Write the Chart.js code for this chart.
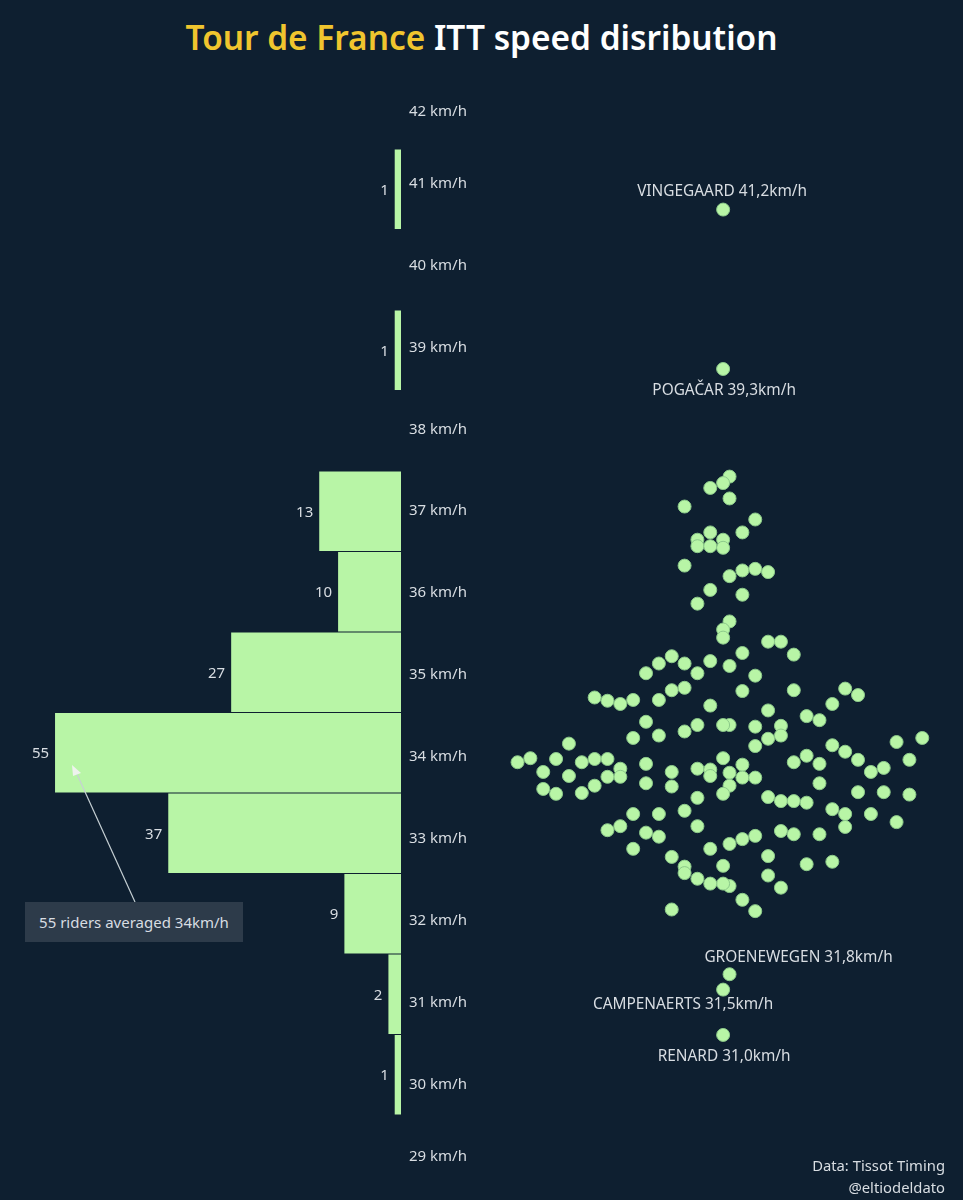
<!DOCTYPE html>
<html>
<head>
<meta charset="utf-8">
<title>Tour de France ITT speed distribution</title>
<script src="https://cdn.jsdelivr.net/npm/chart.js@4"></script>
<style>
  html, body { margin: 0; padding: 0; background: #0e1f30; }
  body { position: relative; width: 963px; height: 1200px; overflow: hidden; font-family: "Noto Sans", sans-serif; }
  canvas { position: absolute; top: 0; }
  #bar-chart { left: 0; }
  #swarm-chart { left: 479px; }
  h1 { position: absolute; top: 15px; left: 0; width: 963px; margin: 0; text-align: center; font-size: 33.4px; font-weight: 600; line-height: 44px; color: #fff; }
  h1 span { color: #f0c52e; }
  .note { position: absolute; left: 25px; top: 902px; width: 218px; height: 40px; line-height: 40px; background: #2d3b4a; color: #d8dde2; font-size: 15px; text-align: center; }
  .credit { position: absolute; right: 18px; top: 1154px; text-align: right; color: #d8dde2; font-size: 14.8px; line-height: 22px; }
</style>
</head>
<body>
<h1><span>Tour de France</span> ITT speed disribution</h1>
<canvas id="bar-chart" width="480" height="1200"></canvas>
<canvas id="swarm-chart" width="484" height="1200"></canvas>
<div class="note">55 riders averaged 34km/h</div>
<div class="credit">Data: Tissot Timing<br>@eltiodeldato</div>

<script>
const green = "#b8f5a6";
const textColor = "#d8dde2";
const fontFamily = '"Noto Sans", sans-serif';

// histogram, one bin per km/h
const speedBins = [42, 41, 40, 39, 38, 37, 36, 35, 34, 33, 32, 31, 30, 29];
const riderCounts = [0, 1, 0, 1, 0, 13, 10, 27, 55, 37, 9, 2, 1, 0];

// axis labels, the two outer ones sit closer in
const tickValues = [41.88, 41, 40, 39, 38, 37, 36, 35, 34, 33, 32, 31, 30, 29.12];
const tickLabels = ["42 km/h", "41 km/h", "40 km/h", "39 km/h", "38 km/h", "37 km/h", "36 km/h",
  "35 km/h", "34 km/h", "33 km/h", "32 km/h", "31 km/h", "30 km/h", "29 km/h"];

// beeswarm: column of each rider and his average speed
const swarmColumns = [
  0.5, 0, -1, 0.5, -3, 2.5, 1.5, -1, -2, 0, -2, -1, 0,
  -3, 2.5, 1.5, 3.5, 0.5, -1, 1.5, -2, 0.5, 0,
  0, 3.5, 4.5, 5.5, 1.5, 0.5, 2.5, 1.5, 5.5, 9.5, 10.5, 8.5, 3.5,
  -4, -5, -3, -1, -6, -2, -3, -4, -5, -10, -9, -8, -7, -1,
  6.5, 7.5, 0.5, 0, 2.5, 4.5, 4.5, 3.5, 2.5, 8.5, 9.5, 13.5, 15.5, 6.5, 5.5, 7.5, 10.5, 14.5, 12.5, 11.5,
  0, 1.5, 0.5, 1.5, 2.5, 7.5, 0.5,
  -6, -2, -3, -7, -5, -12, -15, -16, -13, -11, -10, -9, -14, -12, -6, -8, -8, -9, -4, -2, -1, -1, -6, -10, -14, -4,
  10.5, 12.5,
  14.5, 0, 3.5, 4.5, 5.5, 6.5, 8.5, 9.5, 11.5, 9.5, 13.5, 4.5, 5.5, 7.5, 2.5, 1.5, 0.5, 3.5, 0, 6.5, 8.5,
  -13, -11, -3, -5, -7, -8, -9, -6, -5, -2, -2, -7, -1, -4, -3, -3,
  3.5, 0.5, 0, 4.5, 1.5, 2.5, -2, -1, -4,
  0.5, 0, 0, 0, 0
];
const swarmSpeeds = [
  37.90, 37.82, 37.76, 37.63, 37.53, 37.37, 37.21, 37.21, 37.12, 37.12, 37.04, 37.04, 37.02,
  36.80, 36.76, 36.74, 36.72, 36.67, 36.50, 36.44, 36.33, 36.11, 36.01,
  35.91, 35.86, 35.86, 35.70, 35.72, 35.56, 35.44, 35.25, 35.26, 35.28, 35.20, 35.09, 35.01,
  35.68, 35.59, 35.59, 35.62, 35.47, 35.47, 35.29, 35.26, 35.14, 35.17, 35.13, 35.09, 35.14, 35.07,
  34.94, 34.89, 34.83, 34.83, 34.81, 34.82, 34.70, 34.66, 34.57, 34.58, 34.50, 34.62, 34.67, 34.45, 34.37, 34.35, 34.40, 34.40, 34.30, 34.25,
  34.42, 34.34, 34.24, 34.18, 34.18, 34.11, 34.08,
  34.87, 34.83, 34.75, 34.67, 34.70, 34.60, 34.42, 34.37, 34.41, 34.37, 34.41, 34.41, 34.25, 34.20, 34.35, 34.29, 34.19, 34.19, 34.25, 34.29, 34.28, 34.20, 34.11, 34.08, 34.04, 34.07,
  34.00, 34.00,
  33.97, 33.98, 33.94, 33.89, 33.89, 33.87, 33.79, 33.73, 33.73, 33.57, 33.63, 33.52, 33.48, 33.48, 33.46, 33.42, 33.36, 33.21, 33.09, 33.11, 33.14,
  33.98, 33.99, 33.77, 33.73, 33.73, 33.58, 33.53, 33.50, 33.45, 33.93, 33.58, 33.30, 33.30, 33.20, 33.08, 33.00,
  32.97, 32.84, 32.87, 32.82, 32.67, 32.53, 32.93, 32.87, 32.55,
  31.75, 31.56, 31.00, 39.23, 41.20
];

// riders called out by name
const namedLabels = ["VINGEGAARD 41,2km/h", "POGAČAR 39,3km/h", "GROENEWEGEN 31,8km/h", "CAMPENAERTS 31,5km/h", "RENARD 31,0km/h"];
const namedColumns = [0, 0, 0.5, 0, 0];
const namedSpeeds = [41.20, 39.23, 31.75, 31.56, 31.00];
const namedShiftX = [-1, 1, 69, -40, 1];
const namedShiftY = [-18, 22, -17, 15, 22];

const barLabelsPlugin = {
  id: "barLabels",
  afterDatasetsDraw(chart) {
    const ctx = chart.ctx;
    const bars = chart.getDatasetMeta(0).data;
    ctx.save();
    ctx.font = "15px " + fontFamily;
    ctx.fillStyle = textColor;
    ctx.textAlign = "right";
    ctx.textBaseline = "middle";
    bars.forEach((bar, i) => {
      if (riderCounts[i] > 0) ctx.fillText(String(riderCounts[i]), bar.x - 6, bar.y + 1);
    });

    // arrow from the note up to the 34 km/h bar
    ctx.strokeStyle = "#c6d0d4";
    ctx.fillStyle = "#eef3ee";
    ctx.lineWidth = 1.2;
    ctx.beginPath();
    ctx.moveTo(135, 902);
    ctx.lineTo(76, 772);
    ctx.stroke();
    ctx.beginPath();
    ctx.moveTo(72, 765);
    ctx.lineTo(81, 773);
    ctx.lineTo(73, 776);
    ctx.closePath();
    ctx.fill();
    ctx.restore();
  }
};

new Chart(document.getElementById("bar-chart"), {
  type: "bar",
  data: {
    labels: speedBins,
    datasets: [{
      data: riderCounts,
      backgroundColor: green,
      barPercentage: 0.985,
      categoryPercentage: 1
    }]
  },
  options: {
    indexAxis: "y",
    responsive: false,
    animation: false,
    layout: { autoPadding: false, padding: { top: 68.5, bottom: 4.5, left: 0, right: 0 } },
    plugins: { legend: { display: false }, tooltip: { enabled: false } },
    scales: {
      x: { display: false, reverse: true, min: 0, max: 63.75 },
      y: { display: false },
      speedAxis: {
        axis: "y",
        type: "linear",
        position: "right",
        offset: false,
        bounds: "data",
        min: 28.645,
        max: 42.405,
        afterBuildTicks(scale) {
          scale.ticks = tickValues.map(value => ({ value }));
        },
        afterFit(scale) {
          scale.width = 79;
          scale.paddingTop = 0;
          scale.paddingBottom = 0;
        },
        grid: { display: false, drawTicks: false, offset: false },
        border: { display: false },
        ticks: {
          autoSkip: false,
          padding: 8,
          color: textColor,
          font: { family: fontFamily, size: 15 },
          callback: (value, index) => tickLabels[index]
        }
      }
    }
  },
  plugins: [barLabelsPlugin]
});

const namedLabelsPlugin = {
  id: "namedLabels",
  afterDatasetsDraw(chart) {
    const ctx = chart.ctx;
    ctx.save();
    ctx.font = "15.4px " + fontFamily;
    ctx.fillStyle = textColor;
    ctx.textAlign = "center";
    ctx.textBaseline = "middle";
    namedLabels.forEach((label, i) => {
      const px = chart.scales.x.getPixelForValue(namedColumns[i]) + namedShiftX[i];
      const py = chart.scales.y.getPixelForValue(namedSpeeds[i]) + namedShiftY[i];
      ctx.fillText(label, px, py);
    });
    ctx.restore();
  }
};

new Chart(document.getElementById("swarm-chart"), {
  type: "scatter",
  data: {
    datasets: [{
      data: swarmSpeeds.map((speed, i) => ({ x: swarmColumns[i], y: speed })),
      backgroundColor: green,
      borderColor: "#8cc98a",
      borderWidth: 1,
      pointRadius: 6.5
    }]
  },
  options: {
    responsive: false,
    animation: false,
    layout: { autoPadding: false },
    plugins: { legend: { display: false }, tooltip: { enabled: false } },
    scales: {
      x: { display: false, min: -19, max: 18.67 },
      y: { display: false, min: 28.96, max: 43.79 }
    }
  },
  plugins: [namedLabelsPlugin]
});
</script>
</body>
</html>
